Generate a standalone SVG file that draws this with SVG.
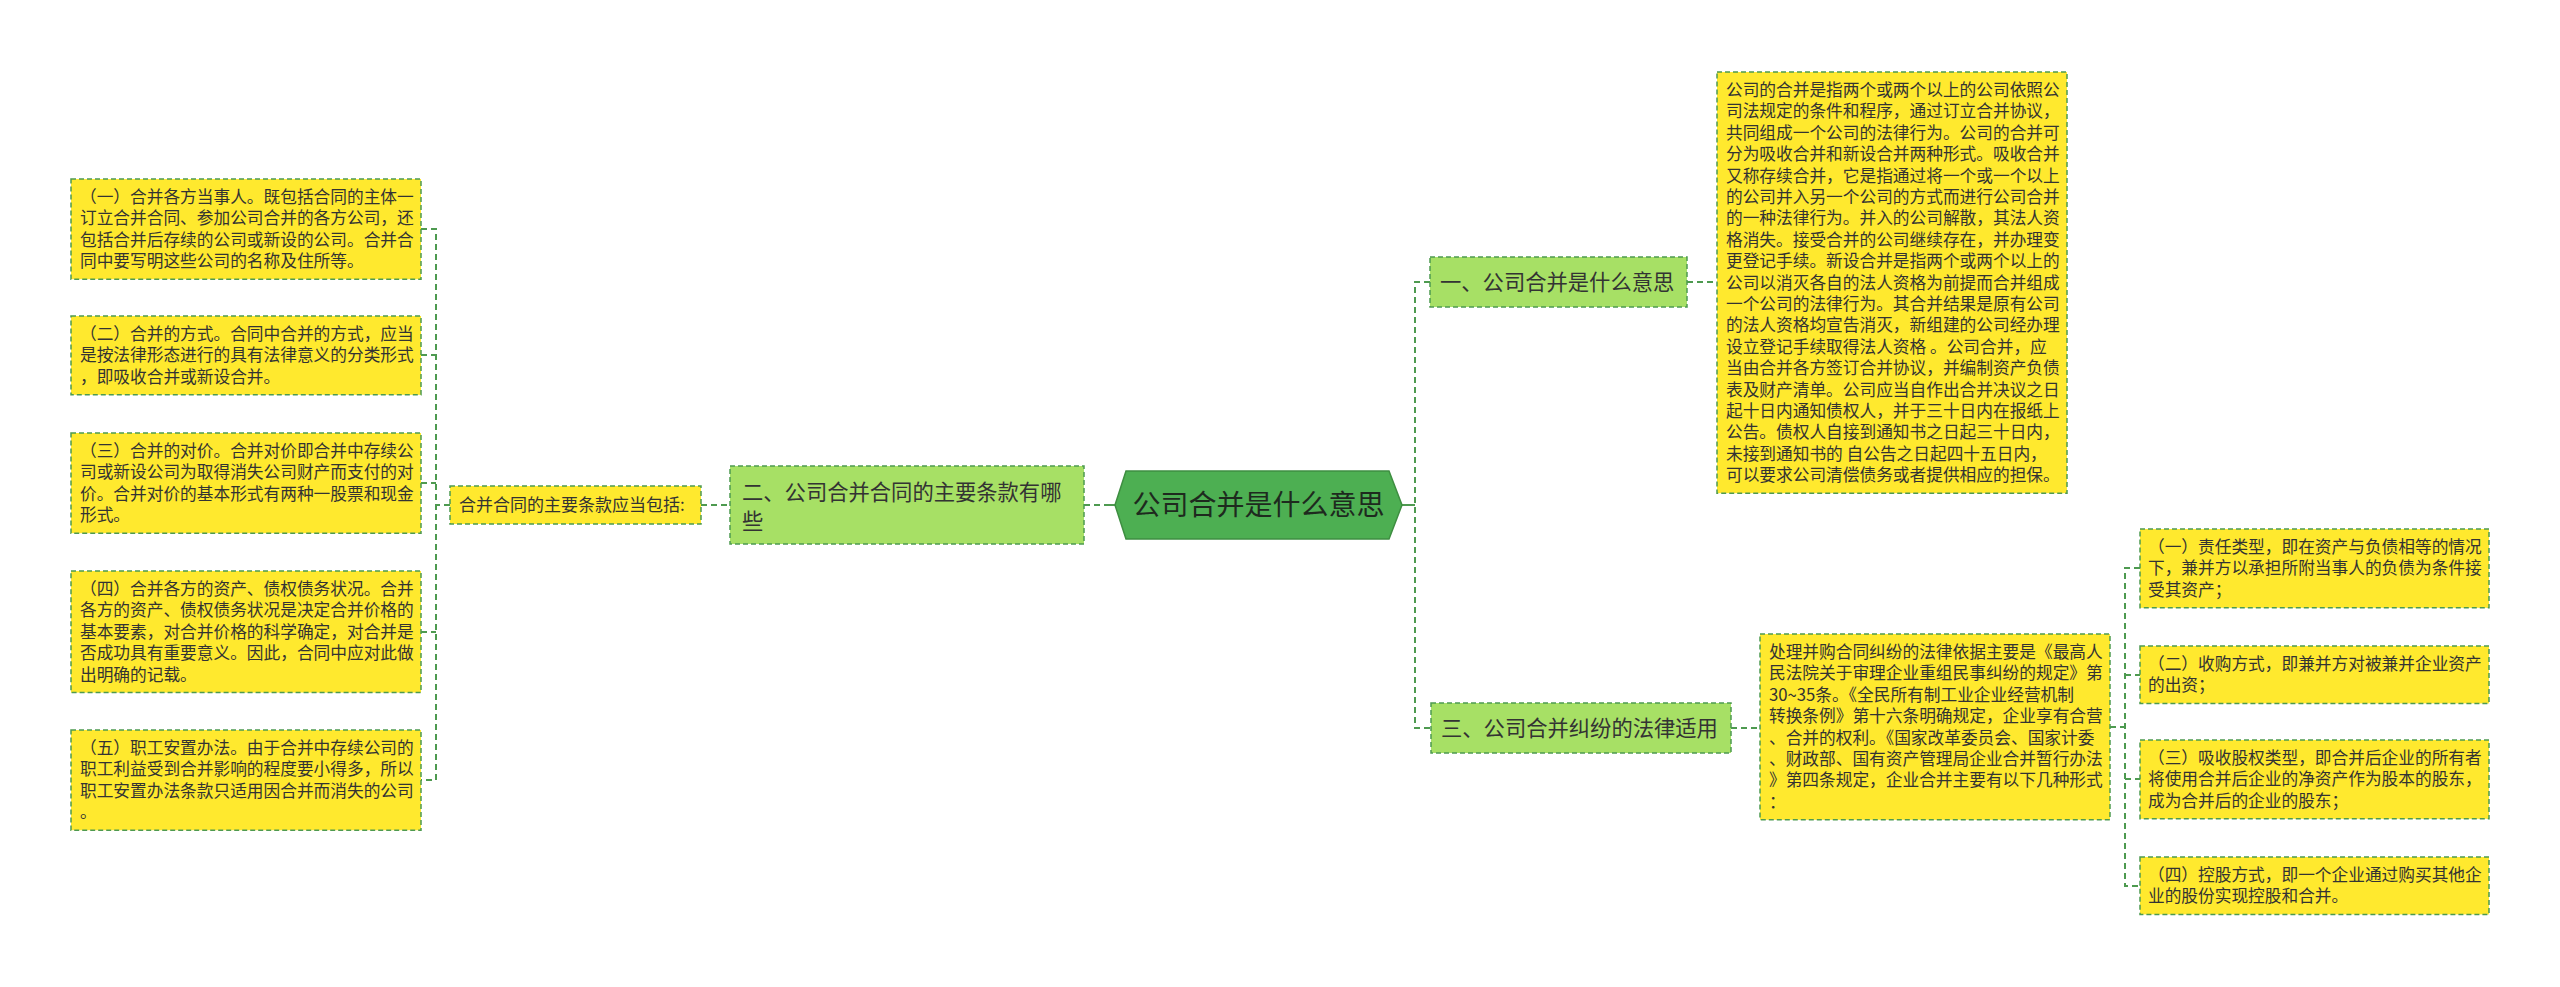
<svg xmlns="http://www.w3.org/2000/svg" width="2560" height="987" viewBox="0 0 2560 987">
<style>
  text { font-family: "Noto Sans CJK SC", "Noto Sans", sans-serif; fill: #333; }
  .t { font-size: 16.7px; }
  .m { font-size: 21.3px; }
  .c { font-size: 28px; fill: #1e2a1e; }
  .s { font-size: 17px; }
  .yb { fill: #FFE92E; stroke: #4E9A50; stroke-width: 1.5; stroke-dasharray: 5 3; }
  .gb { fill: #A7E065; stroke: #4E9A50; stroke-width: 1.5; stroke-dasharray: 5 3; }
  .conn path { fill: none; stroke: #4E9A50; stroke-width: 2; stroke-dasharray: 6 4; }
  .conn .solid { stroke-dasharray: none; }
</style>
<rect width="2560" height="987" fill="#fff"/>

<g id="connectors" class="conn">
  <path d="M1084,505 H1107"/>
  <path class="solid" d="M1105,505 H1116"/>
  <path class="solid" d="M1402,505 H1415"/>
  <path d="M1430,282 H1415 V728 H1431"/>
  <path d="M1687,282 H1717"/>
  <path d="M1731,728 H1760"/>
  <path d="M2110,727 H2125"/>
  <path d="M2140,568 H2125 V886 H2140"/>
  <path d="M2125,675 H2140"/>
  <path d="M2125,779 H2140"/>
  <path d="M701,505 H730"/>
  <path d="M450,505 H436"/>
  <path d="M421,229 H436 V780 H421"/>
  <path d="M421,355 H436"/>
  <path d="M421,483 H436"/>
  <path d="M421,632 H436"/>
</g>

<g id="center">
  <polygon points="1115,505 1126,471 1389,471 1402,505 1389,539 1126,539" fill="#4DAF52" stroke="#3E8E41" stroke-width="1.5"/>
  <text class="c" x="1258.5" y="515" text-anchor="middle">公司合并是什么意思</text>
</g>

<g id="n2">
  <rect class="gb" x="730" y="466" width="354" height="78"/>
  <text class="m" x="742" y="500">二、公司合并合同的主要条款有哪</text>
  <text class="m" x="742" y="529">些</text>
</g>

<g id="n2a">
  <rect class="yb" x="450" y="486" width="251" height="38"/>
  <text class="s" x="459" y="511">合并合同的主要条款应当包括:</text>
</g>

<g id="l1">
  <rect class="yb" x="71" y="179" width="350" height="100.2"/>
  <text class="t" x="80" y="203">（一）合并各方当事人。既包括合同的主体一</text>
  <text class="t" x="80" y="224.4">订立合并合同、参加公司合并的各方公司，还</text>
  <text class="t" x="80" y="245.8">包括合并后存续的公司或新设的公司。合并合</text>
  <text class="t" x="80" y="267.2">同中要写明这些公司的名称及住所等。</text>
</g>

<g id="l2">
  <rect class="yb" x="71" y="316" width="350" height="78.8"/>
  <text class="t" x="80" y="340">（二）合并的方式。合同中合并的方式，应当</text>
  <text class="t" x="80" y="361.4">是按法律形态进行的具有法律意义的分类形式</text>
  <text class="t" x="80" y="382.8">，即吸收合并或新设合并。</text>
</g>

<g id="l3">
  <rect class="yb" x="71" y="433" width="350" height="100.2"/>
  <text class="t" x="80" y="457">（三）合并的对价。合并对价即合并中存续公</text>
  <text class="t" x="80" y="478.4">司或新设公司为取得消失公司财产而支付的对</text>
  <text class="t" x="80" y="499.8">价。合并对价的基本形式有两种一股票和现金</text>
  <text class="t" x="80" y="521.2">形式。</text>
</g>

<g id="l4">
  <rect class="yb" x="71" y="571" width="350" height="121.6"/>
  <text class="t" x="80" y="595">（四）合并各方的资产、债权债务状况。合并</text>
  <text class="t" x="80" y="616.4">各方的资产、债权债务状况是决定合并价格的</text>
  <text class="t" x="80" y="637.8">基本要素，对合并价格的科学确定，对合并是</text>
  <text class="t" x="80" y="659.2">否成功具有重要意义。因此，合同中应对此做</text>
  <text class="t" x="80" y="680.6">出明确的记载。</text>
</g>

<g id="l5">
  <rect class="yb" x="71" y="730" width="350" height="100.2"/>
  <text class="t" x="80" y="754">（五）职工安置办法。由于合并中存续公司的</text>
  <text class="t" x="80" y="775.4">职工利益受到合并影响的程度要小得多，所以</text>
  <text class="t" x="80" y="796.8">职工安置办法条款只适用因合并而消失的公司</text>
  <text class="t" x="80" y="818.2">。</text>
</g>

<g id="n1">
  <rect class="gb" x="1430" y="257" width="257" height="50"/>
  <text class="m" x="1440" y="290">一、公司合并是什么意思</text>
</g>

<g id="n1a">
  <rect class="yb" x="1717" y="72" width="350" height="421.2"/>
  <text class="t" x="1726" y="96">公司的合并是指两个或两个以上的公司依照公</text>
  <text class="t" x="1726" y="117.4">司法规定的条件和程序，通过订立合并协议，</text>
  <text class="t" x="1726" y="138.8">共同组成一个公司的法律行为。公司的合并可</text>
  <text class="t" x="1726" y="160.2">分为吸收合并和新设合并两种形式。吸收合并</text>
  <text class="t" x="1726" y="181.6">又称存续合并，它是指通过将一个或一个以上</text>
  <text class="t" x="1726" y="203">的公司并入另一个公司的方式而进行公司合并</text>
  <text class="t" x="1726" y="224.4">的一种法律行为。并入的公司解散，其法人资</text>
  <text class="t" x="1726" y="245.8">格消失。接受合并的公司继续存在，并办理变</text>
  <text class="t" x="1726" y="267.2">更登记手续。新设合并是指两个或两个以上的</text>
  <text class="t" x="1726" y="288.6">公司以消灭各自的法人资格为前提而合并组成</text>
  <text class="t" x="1726" y="310">一个公司的法律行为。其合并结果是原有公司</text>
  <text class="t" x="1726" y="331.4">的法人资格均宣告消灭，新组建的公司经办理</text>
  <text class="t" x="1726" y="352.8">设立登记手续取得法人资格 。公司合并，应</text>
  <text class="t" x="1726" y="374.2">当由合并各方签订合并协议，并编制资产负债</text>
  <text class="t" x="1726" y="395.6">表及财产清单。公司应当自作出合并决议之日</text>
  <text class="t" x="1726" y="417">起十日内通知债权人，并于三十日内在报纸上</text>
  <text class="t" x="1726" y="438.4">公告。债权人自接到通知书之日起三十日内，</text>
  <text class="t" x="1726" y="459.8">未接到通知书的 自公告之日起四十五日内，</text>
  <text class="t" x="1726" y="481.2">可以要求公司清偿债务或者提供相应的担保。</text>
</g>

<g id="n3">
  <rect class="gb" x="1431" y="703" width="300" height="50"/>
  <text class="m" x="1441" y="736">三、公司合并纠纷的法律适用</text>
</g>

<g id="n3a">
  <rect class="yb" x="1760" y="634" width="350" height="185.8"/>
  <text class="t" x="1769" y="658">处理并购合同纠纷的法律依据主要是《最高人</text>
  <text class="t" x="1769" y="679.4">民法院关于审理企业重组民事纠纷的规定》第</text>
  <text class="t" x="1769" y="700.8">30~35条。《全民所有制工业企业经营机制</text>
  <text class="t" x="1769" y="722.2">转换条例》第十六条明确规定，企业享有合营</text>
  <text class="t" x="1769" y="743.6">、合并的权利。《国家改革委员会、国家计委</text>
  <text class="t" x="1769" y="765">、财政部、国有资产管理局企业合并暂行办法</text>
  <text class="t" x="1769" y="786.4">》第四条规定，企业合并主要有以下几种形式</text>
  <text class="t" x="1769" y="807.8">：</text>
</g>

<g id="r1">
  <rect class="yb" x="2140" y="529" width="349" height="78.8"/>
  <text class="t" x="2148" y="553">（一）责任类型，即在资产与负债相等的情况</text>
  <text class="t" x="2148" y="574.4">下，兼并方以承担所附当事人的负债为条件接</text>
  <text class="t" x="2148" y="595.8">受其资产；</text>
</g>

<g id="r2">
  <rect class="yb" x="2140" y="646" width="349" height="57.4"/>
  <text class="t" x="2148" y="670">（二）收购方式，即兼并方对被兼并企业资产</text>
  <text class="t" x="2148" y="691.4">的出资；</text>
</g>

<g id="r3">
  <rect class="yb" x="2140" y="740" width="349" height="78.8"/>
  <text class="t" x="2148" y="764">（三）吸收股权类型，即合并后企业的所有者</text>
  <text class="t" x="2148" y="785.4">将使用合并后企业的净资产作为股本的股东，</text>
  <text class="t" x="2148" y="806.8">成为合并后的企业的股东；</text>
</g>

<g id="r4">
  <rect class="yb" x="2140" y="857" width="349" height="57.4"/>
  <text class="t" x="2148" y="881">（四）控股方式，即一个企业通过购买其他企</text>
  <text class="t" x="2148" y="902.4">业的股份实现控股和合并。</text>
</g>
</svg>
